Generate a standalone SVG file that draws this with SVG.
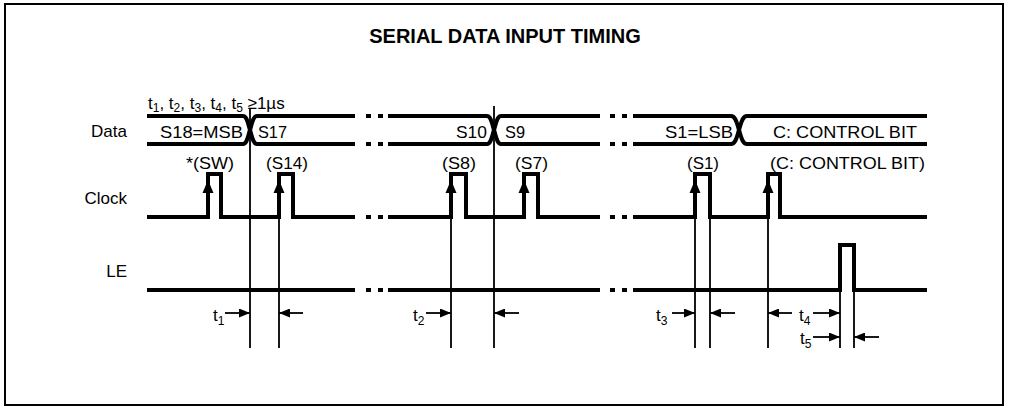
<svg xmlns="http://www.w3.org/2000/svg" width="1009" height="411" viewBox="0 0 1009 411">
<style>
text{font-family:"Liberation Sans",Arial,sans-serif;font-size:17px;fill:#000}
.title{font-size:20px;font-weight:bold}
.sig{fill:none;stroke:#000;stroke-width:4;stroke-linejoin:miter}
.thin{fill:none;stroke:#000;stroke-width:1.8}
.arr{fill:none;stroke:#000;stroke-width:1.8;marker-end:url(#ah)}
.up{fill:#000}
.sub{font-size:12px}
</style>
<defs>
<marker id="ah" markerUnits="userSpaceOnUse" markerWidth="12" markerHeight="9" refX="11" refY="4.5" orient="auto">
<path d="M0,0 L11,4.5 L0,9 z" fill="#000"/>
</marker>
<g id="dots4">
<rect x="-8" y="-2" width="5" height="4"/>
<rect x="4" y="-2" width="5" height="4"/>
</g>
</defs>
<rect x="0" y="0" width="1009" height="411" fill="#fff"/>
<rect x="5" y="4" width="998" height="401" fill="none" stroke="#000" stroke-width="2"/>
<g id="title"><text class="title" x="505" y="43" text-anchor="middle">SERIAL DATA INPUT TIMING</text></g>
<g id="signal-labels">
<text x="127" y="137" text-anchor="end">Data</text>
<text x="127" y="204" text-anchor="end">Clock</text>
<text x="127" y="277" text-anchor="end">LE</text>
</g>
<g id="condition"><text x="148" y="109">t<tspan class="sub" dy="3">1</tspan><tspan dy="-3">, t</tspan><tspan class="sub" dy="3">2</tspan><tspan dy="-3">, t</tspan><tspan class="sub" dy="3">3</tspan><tspan dy="-3">, t</tspan><tspan class="sub" dy="3">4</tspan><tspan dy="-3">, t</tspan><tspan class="sub" dy="3">5</tspan><tspan dy="-3"> ≥1µs</tspan></text></g>
<g id="data">
<path class="sig" d="M147,116 H243 C247,116 248,124 250,130 C252,136 253,144 257,144 H355"/>
<path class="sig" d="M147,144 H243 C247,144 248,136 250,130 C252,124 253,116 257,116 H355"/>
<path class="sig" d="M388,116 H487 C491,116 492,124 494,130 C496,136 497,144 501,144 H600"/>
<path class="sig" d="M388,144 H487 C491,144 492,136 494,130 C496,124 497,116 501,116 H600"/>
<path class="sig" d="M633,116 H731 C736,116 737,124 739,130 C741,136 742,144 747,144 H927"/>
<path class="sig" d="M633,144 H731 C736,144 737,136 739,130 C741,124 742,116 747,116 H927"/>
<use href="#dots4" x="374" y="116"/><use href="#dots4" x="374" y="144"/>
<use href="#dots4" x="618" y="116"/><use href="#dots4" x="618" y="144"/>
<text x="160" y="138" textLength="83" lengthAdjust="spacingAndGlyphs">S18=MSB</text>
<text x="258" y="138" textLength="29" lengthAdjust="spacingAndGlyphs">S17</text>
<text x="456" y="138" textLength="31" lengthAdjust="spacingAndGlyphs">S10</text>
<text x="505" y="138" textLength="20" lengthAdjust="spacingAndGlyphs">S9</text>
<text x="665" y="138" textLength="68" lengthAdjust="spacingAndGlyphs">S1=LSB</text>
<text x="773" y="138" textLength="144" lengthAdjust="spacingAndGlyphs">C: CONTROL BIT</text>
</g>
<g id="clock">
<path class="sig" d="M147,217 H208 V174 H221 V217 H279 V174 H293 V217 H355"/>
<path class="sig" d="M388,217 H451 V174 H466 V217 H524 V174 H538 V217 H600"/>
<path class="sig" d="M633,217 H695 V174 H710 V217 H768 V174 H780 V217 H927"/>
<use href="#dots4" x="374" y="217"/><use href="#dots4" x="618" y="217"/>
<polygon class="up" points="208,180 202.5,193 213.5,193"/>
<polygon class="up" points="279,180 273.5,193 284.5,193"/>
<polygon class="up" points="451,180 445.5,193 456.5,193"/>
<polygon class="up" points="524,180 518.5,193 529.5,193"/>
<polygon class="up" points="695,180 689.5,193 700.5,193"/>
<polygon class="up" points="768,180 762.5,193 773.5,193"/>
<text x="186" y="169" textLength="48" lengthAdjust="spacingAndGlyphs">*(SW)</text>
<text x="266" y="169" textLength="42" lengthAdjust="spacingAndGlyphs">(S14)</text>
<text x="442" y="169" textLength="34" lengthAdjust="spacingAndGlyphs">(S8)</text>
<text x="515" y="169" textLength="33" lengthAdjust="spacingAndGlyphs">(S7)</text>
<text x="687" y="169" textLength="32" lengthAdjust="spacingAndGlyphs">(S1)</text>
<text x="770" y="169" textLength="155" lengthAdjust="spacingAndGlyphs">(C: CONTROL BIT)</text>
</g>
<g id="le">
<path class="sig" d="M147,290 H355"/>
<path class="sig" d="M388,290 H600"/>
<path class="sig" d="M633,290 H840 V245 H854 V290 H927"/>
<use href="#dots4" x="374" y="290"/><use href="#dots4" x="618" y="290"/>
</g>
<g id="connectors">
<path class="thin" d="M250,108 V348 M494,106 V348 M279,217 V348 M451,217 V348 M695,217 V348 M710,217 V348 M768,217 V348 M840,290 V348 M854,290 V348"/>
<line class="arr" x1="225" y1="313" x2="250" y2="313"/>
<line class="arr" x1="303" y1="313" x2="279" y2="313"/>
<line class="arr" x1="426" y1="313" x2="451" y2="313"/>
<line class="arr" x1="519" y1="313" x2="494" y2="313"/>
<line class="arr" x1="672" y1="313" x2="695" y2="313"/>
<line class="arr" x1="735" y1="313" x2="710" y2="313"/>
<line class="arr" x1="792" y1="313" x2="768" y2="313"/>
<line class="arr" x1="813" y1="313" x2="840" y2="313"/>
<line class="arr" x1="813" y1="337" x2="840" y2="337"/>
<line class="arr" x1="879" y1="337" x2="854" y2="337"/>
</g>
<g id="timing-labels">
<text x="213" y="321">t<tspan class="sub" dy="4">1</tspan></text>
<text x="413" y="321">t<tspan class="sub" dy="4">2</tspan></text>
<text x="656" y="321">t<tspan class="sub" dy="4">3</tspan></text>
<text x="799" y="321">t<tspan class="sub" dy="4">4</tspan></text>
<text x="800" y="344">t<tspan class="sub" dy="4">5</tspan></text>
</g>
</svg>
